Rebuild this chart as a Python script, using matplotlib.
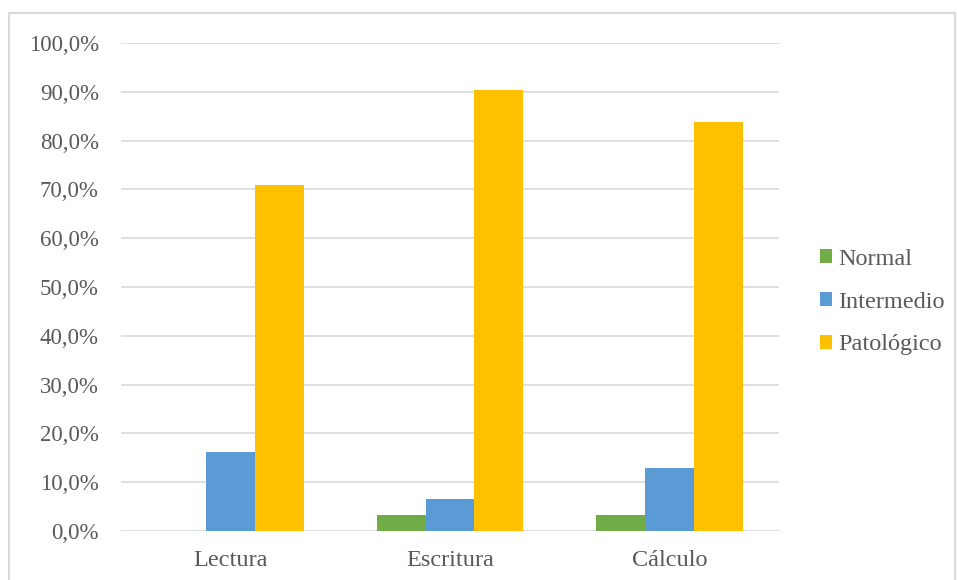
import matplotlib
matplotlib.use("Agg")
import matplotlib.pyplot as plt
from matplotlib.patches import Rectangle
import numpy as np

categories = ["Lectura", "Escritura", "Cálculo"]
series_names = ["Normal", "Intermedio", "Patológico"]
normal = [0.0, 3.2, 3.2]
intermedio = [16.1, 6.5, 12.9]
patologico = [71.0, 90.3, 83.9]
colors = ["#70ad47", "#5b9bd5", "#ffc000"]
yticks = [0, 10, 20, 30, 40, 50, 60, 70, 80, 90, 100]

plt.rcParams["font.family"] = ["Liberation Serif", "DejaVu Serif"]
text_color = "#595959"
grid_color = "#d9d9d9"

fig = plt.figure(figsize=(9.57, 5.8), dpi=100)
ax = fig.add_axes([121 / 957, 1 - 531 / 580, (779 - 121) / 957, (531 - 43) / 580])

x = np.arange(len(categories))
w = 0.2234
for i, (vals, name) in enumerate(zip([normal, intermedio, patologico], series_names)):
    ax.bar(x + (i - 1) * w, vals, width=w, color=colors[i], label=name, zorder=3)

ax.set_xlim(-0.5, len(categories) - 0.5)
ax.set_ylim(0, 100)
ax.set_yticks(yticks)
ax.set_yticklabels([f"{v:.1f}%".replace(".", ",") for v in yticks])
ax.set_xticks(x)
ax.set_xticklabels(categories)
ax.tick_params(length=0, labelcolor=text_color)
ax.tick_params(axis="y", labelsize=16.5, pad=16)
ax.tick_params(axis="x", labelsize=17.5, pad=14)
ax.grid(axis="y", color=grid_color, lw=1.2, zorder=0)
for s in ax.spines.values():
    s.set_visible(False)

leg = ax.legend(loc="center left", bbox_to_anchor=(820 / 957, 1 - 302 / 580),
                bbox_transform=fig.transFigure, frameon=False,
                fontsize=17.5, labelcolor=text_color, handlelength=0.5,
                handleheight=0.5, handletextpad=0.25, labelspacing=0.9,
                borderaxespad=0, borderpad=0)

fig.patches.append(Rectangle((9 / 957, -0.01), (955 - 9) / 957, 1 - 13 / 580 + 0.01,
                             transform=fig.transFigure, fill=False,
                             edgecolor=grid_color, lw=1.5))

fig.savefig("out.png", dpi=100)
